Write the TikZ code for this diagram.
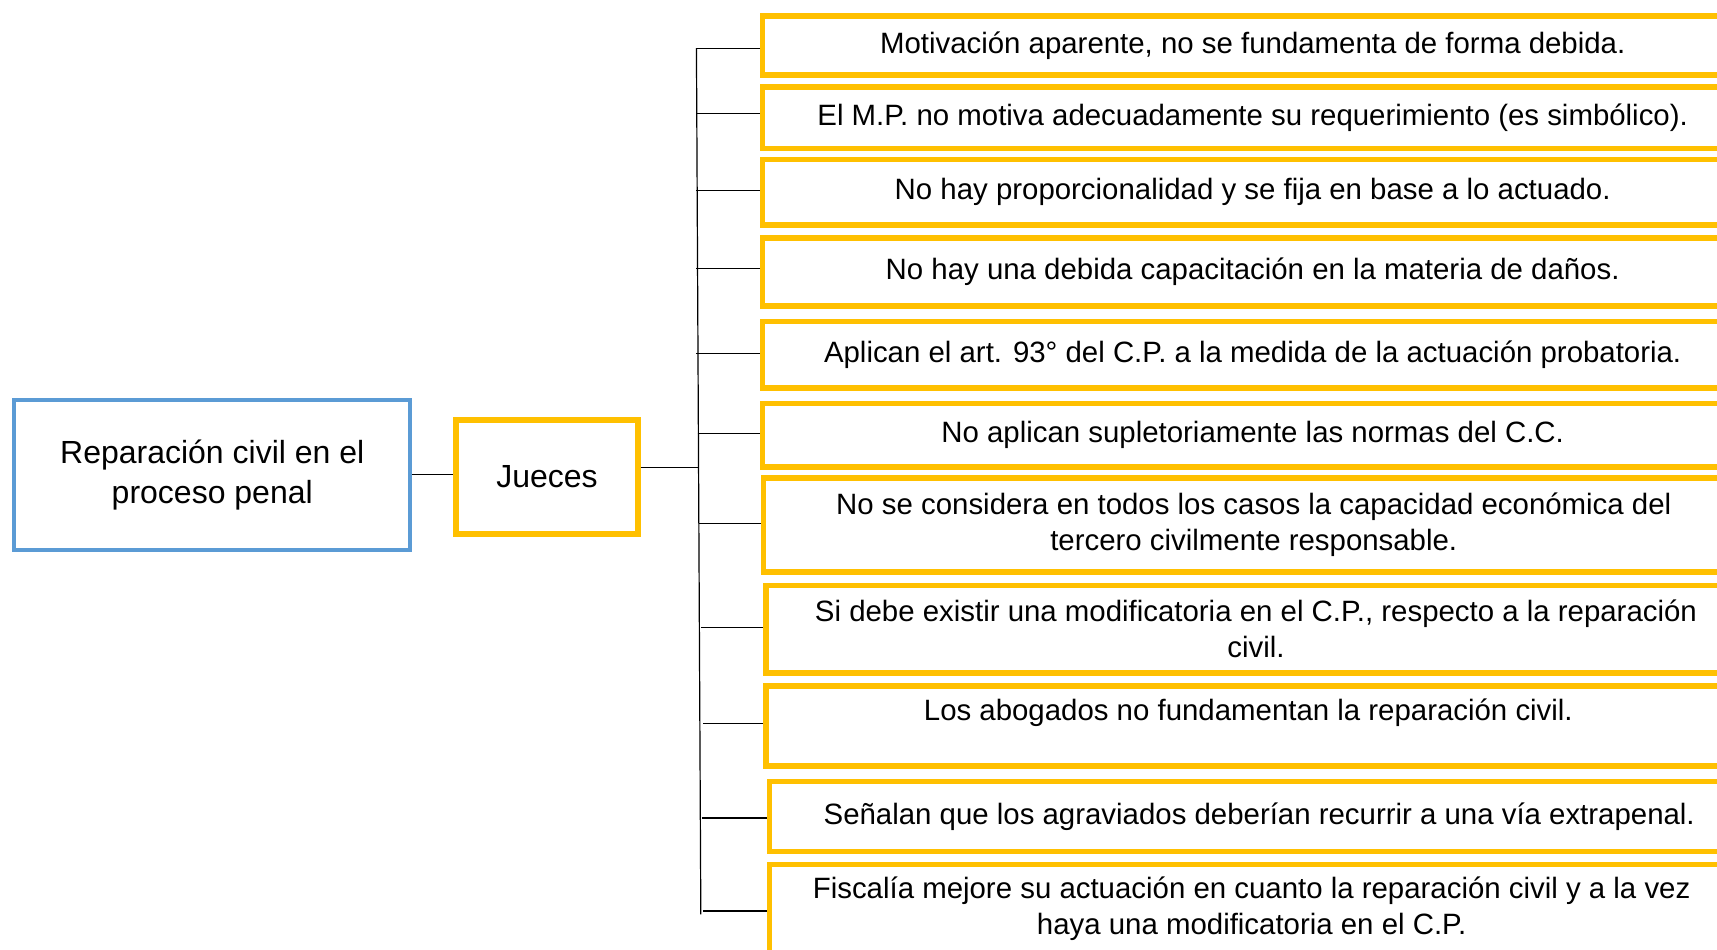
\documentclass[tikz,border=0pt]{standalone}
\usepackage{fontspec}
\setmainfont{Liberation Sans}
\usetikzlibrary{positioning}
\definecolor{amarillo}{HTML}{FFC000}
\definecolor{azul}{HTML}{5B9BD5}
\tikzset{
  caja/.style={rectangle, draw=amarillo, line width=2.7pt, anchor=north west},
  tema/.style={rectangle, draw=azul, line width=2.2pt, anchor=north west},
  texto/.style={align=center, font=\fontsize{14.7}{18}\selectfont},
  rama/.style={draw=black, line width=0.6pt}
}

\begin{document}
\begin{tikzpicture}[x=0.5475pt, y=-0.5475pt]
\useasboundingbox (0,0) rectangle (1568,867);
\clip (0,0) rectangle (1568,867);

\node (rectR) [tema, minimum width=198pt, minimum height=75pt] at (11,363) {};
\node [texto, font=\fontsize{16}{20}\selectfont] at (rectR.center) {Reparación civil en el\\proceso penal};

\node (rectJ) [caja, minimum width=91pt, minimum height=57pt] at (414,381) {};
\node [texto, font=\fontsize{16}{20}\selectfont] at (rectJ.center) {Jueces};

\node (rect0) [caja, minimum width=490pt, minimum height=29.6pt] at (694,12) {};
\node [texto] at (rect0.center) {Motivación aparente, no se fundamenta de forma debida.};
\node (rect1) [caja, minimum width=490pt, minimum height=30.7pt] at (694,77) {};
\node [texto] at (rect1.center) {El M.P. no motiva adecuadamente su requerimiento (es simbólico).};
\node (rect2) [caja, minimum width=490pt, minimum height=32.9pt] at (694,143) {};
\node [texto] at (rect2.center) {No hay proporcionalidad y se fija en base a lo actuado.};
\node (rect3) [caja, minimum width=490pt, minimum height=33.9pt] at (694,215) {};
\node [texto] at (rect3.center) {No hay una debida capacitación en la materia de daños.};
\node (rect4) [caja, minimum width=490pt, minimum height=33.4pt] at (694,291) {};
\node [texto] at (rect4.center) {Aplican el art. 93° del C.P. a la medida de la actuación probatoria.};
\node (rect5) [caja, minimum width=490pt, minimum height=31.8pt] at (694,366) {};
\node [texto] at (rect5.center) {No aplican supletoriamente las normas del C.C.};
\node (rect6) [caja, minimum width=490pt, minimum height=47.1pt] at (695,434) {};
\node [texto] at (rect6.center) {No se considera en todos los casos la capacidad económica del\\tercero civilmente responsable.};
\node (rect7) [caja, minimum width=490pt, minimum height=43.8pt] at (697,532) {};
\node [texto] at (rect7.center) {Si debe existir una modificatoria en el C.P., respecto a la reparación\\civil.};
\node (rect8) [caja, minimum width=490pt, minimum height=40pt] at (697,624) {};
\node [texto] at (1140,651) {Los abogados no fundamentan la reparación civil.};
\node (rect9) [caja, minimum width=490pt, minimum height=35pt] at (700,711) {};
\node [texto] at (rect9.center) {Señalan que los agraviados deberían recurrir a una vía extrapenal.};
\node (rect10) [caja, minimum width=490pt, minimum height=49.3pt] at (700,787) {};
\node [texto] at (1143,830) {Fiscalía mejore su actuación en cuanto la reparación civil y a la vez\\haya una modificatoria en el C.P.};

% tronco
\coordinate (tA) at (636,44);
\coordinate (tB) at (640,835);
\coordinate (tJ) at (637,427);
\draw [rama] (tA) -- (tB);
\draw [rama] (rectR.east) -- (rectJ.west |- rectR.east);
\draw [rama] (rectJ.east |- tJ) -- (tJ);

% ramas
\draw [rama] (636,44) -- (rect0.west |- 0,44);
\draw [rama] (636,104) -- (rect1.west |- 0,104);
\draw [rama] (636,174) -- (rect2.west |- 0,174);
\draw [rama] (636,245) -- (rect3.west |- 0,245);
\draw [rama] (636,323) -- (rect4.west |- 0,323);
\draw [rama] (637,396) -- (rect5.west |- 0,396);
\draw [rama] (638,478) -- (rect6.west |- 0,478);
\draw [rama] (640,573) -- (rect7.west |- 0,573);
\draw [rama] (642,661) -- (rect8.west |- 0,661);
\draw [rama] (641,747) -- (rect9.west |- 0,747);
\draw [rama] (642,832) -- (rect10.west |- 0,832);
\end{tikzpicture}
\end{document}
